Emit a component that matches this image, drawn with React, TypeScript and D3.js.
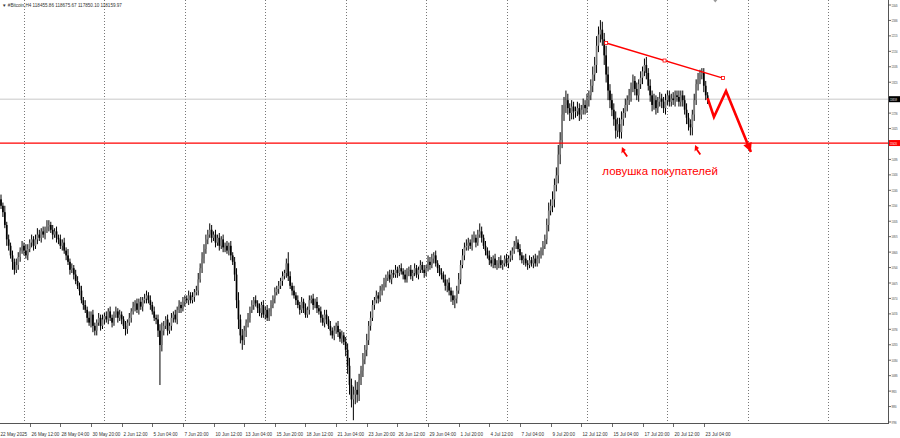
import React from "react";
import * as d3 from "d3";

const W = 900;
const H = 438;
const PLOT_R = 888;
const PLOT_B = 423;

// ---- data (prices in thousands USD, H4 bars) ----
const firstOpen = 111.9;
const closes = [
  111.5, 111.1, 110.3, 109.4, 109.0, 108.4, 108.0, 107.5, 107.8, 108.3,
  108.7, 109.0, 108.7, 108.4, 108.8, 109.2, 109.4, 109.0, 109.4, 109.7,
  109.5, 109.9, 109.7, 110.0, 110.2, 110.3, 110.0, 109.7, 109.9, 109.5,
  109.4, 109.0, 109.2, 108.7, 108.4, 108.0, 107.5, 107.6, 107.2, 106.8,
  106.5, 106.2, 105.6, 105.3, 105.0, 104.5, 104.2, 104.7, 104.0, 103.7,
  104.2, 104.5, 104.0, 104.4, 104.6, 104.4, 104.9, 104.5, 104.2, 104.7,
  104.9, 104.5, 104.7, 104.4, 104.0, 103.8, 104.2, 104.5, 104.9, 105.2,
  105.4, 105.0, 105.5, 105.2, 105.6, 105.7, 105.9, 105.6, 105.3, 104.9,
  104.5, 104.4, 103.7, 102.8, 103.7, 104.0, 104.4, 103.7, 104.0, 104.5,
  104.7, 104.4, 105.0, 105.3, 105.1, 105.5, 105.7, 105.6, 105.9, 105.6,
  105.8, 106.1, 106.2, 106.9, 107.6, 108.2, 108.8, 109.4, 109.7, 110.0,
  109.5, 109.7, 109.2, 109.5, 109.0, 109.4, 108.9, 109.0, 108.7, 109.0,
  108.4, 108.0, 107.2, 105.6, 104.4, 103.4, 103.1, 103.7, 104.2, 104.5,
  105.0, 105.3, 105.6, 105.4, 105.1, 104.8, 105.3, 104.7, 105.0, 104.5,
  104.9, 105.3, 105.7, 106.1, 106.3, 106.5, 106.8, 107.1, 107.3, 107.9,
  107.1, 106.5, 106.2, 105.9, 105.6, 105.3, 105.0, 105.5, 105.1, 104.7,
  105.0, 105.6, 105.7, 105.3, 105.5, 105.1, 104.9, 104.5, 104.2, 104.7,
  104.4, 104.0, 103.7, 103.4, 103.7, 104.0, 103.6, 103.2, 103.4, 103.0,
  102.5, 101.5, 100.3, 99.4, 99.7, 100.0, 99.7, 100.6, 101.2, 101.9,
  102.5, 103.1, 104.0, 104.5, 105.3, 105.6, 105.9, 105.7, 106.2, 106.4,
  106.7, 107.0, 107.2, 106.9, 107.3, 107.2, 107.5, 107.3, 107.6, 107.4,
  107.2, 106.9, 107.4, 107.5, 107.1, 107.3, 107.6, 107.2, 107.5, 107.8,
  107.5, 107.3, 107.6, 108.0, 107.8, 108.2, 108.4, 107.9, 107.6, 107.3,
  107.2, 106.9, 106.5, 106.7, 106.2, 105.9, 105.6, 105.7, 106.2, 106.9,
  107.8, 108.4, 108.9, 109.0, 109.2, 109.0, 109.4, 109.5, 109.2, 109.7,
  109.9, 109.5, 109.0, 108.7, 108.4, 108.1, 107.9, 108.2, 107.8, 107.9,
  108.1, 107.8, 107.9, 108.2, 107.9, 108.2, 108.4, 108.7, 109.0, 109.2,
  108.8, 108.4, 108.1, 108.2, 107.9, 107.8, 108.1, 107.9, 108.2, 107.9,
  108.2, 108.4, 108.7, 109.0, 109.4, 110.3, 111.2, 111.5, 111.9, 112.8,
  113.4, 114.7, 115.6, 117.2, 117.8, 118.1, 117.6, 117.3, 117.7, 117.4,
  117.4, 117.6, 117.2, 117.5, 117.8, 117.6, 118.1, 118.4, 119.0, 119.7,
  120.3, 121.5, 122.2, 122.5, 121.9, 120.9, 119.7, 118.7, 118.1, 117.5,
  116.9, 116.2, 116.6, 116.1, 116.9, 117.3, 117.8, 118.1, 118.4, 118.9,
  119.3, 118.8, 118.4, 119.1, 119.5, 119.9, 120.3, 119.8, 119.0, 118.4,
  117.8, 118.1, 117.6, 118.0, 118.2, 118.0, 117.6, 118.1, 118.4, 118.0,
  118.2, 118.1, 118.4, 118.3, 118.0, 118.4, 118.1, 117.5, 117.0, 116.6,
  116.4, 117.2, 118.1, 119.1, 119.4, 119.7, 119.8, 119.0, 118.4, 118.16,
];
// wick lengths above / below the body, in hundreds of USD
const wickUp = [
  3, 2, 4, 2, 3, 2, 3, 2, 4, 3, 2, 3, 2, 4, 3, 2, 3, 2, 3, 4,
  3, 2, 3, 2, 4, 3, 2, 3, 2, 3, 2, 3, 2, 3, 2, 4, 2, 3, 2, 3,
  3, 2, 3, 2, 3, 2, 4, 2, 3, 2, 2, 3, 2, 3, 2, 3, 2, 3, 2, 2,
  3, 2, 3, 2, 2, 3, 2, 3, 2, 3, 2, 3, 2, 3, 2, 3, 3, 2, 3, 2,
  3, 2, 3, 4, 5, 3, 2, 3, 2, 3, 2, 3, 2, 3, 2, 3, 2, 2, 3, 2,
  3, 2, 3, 4, 3, 4, 3, 3, 3, 4, 3, 2, 3, 2, 3, 2, 3, 2, 3, 2,
  3, 2, 3, 4, 5, 3, 4, 3, 2, 3, 2, 3, 2, 3, 2, 3, 2, 3, 2, 3,
  2, 3, 2, 3, 2, 3, 2, 3, 2, 3, 7, 3, 2, 3, 2, 3, 2, 3, 2, 3,
  2, 3, 2, 3, 2, 3, 2, 3, 2, 3, 3, 2, 3, 2, 3, 2, 3, 2, 3, 2,
  3, 4, 5, 4, 5, 6, 5, 4, 3, 4, 3, 4, 3, 4, 3, 2, 3, 2, 3, 2,
  3, 2, 2, 3, 2, 2, 3, 2, 2, 3, 2, 3, 2, 2, 3, 2, 3, 2, 2, 3,
  2, 3, 2, 4, 3, 3, 2, 3, 2, 2, 3, 2, 3, 2, 3, 2, 3, 2, 3, 4,
  3, 4, 3, 4, 3, 2, 3, 4, 2, 3, 5, 3, 2, 3, 2, 3, 2, 2, 3, 2,
  2, 3, 2, 2, 3, 2, 3, 2, 3, 4, 2, 3, 2, 2, 3, 2, 3, 2, 2, 3,
  2, 3, 2, 3, 3, 4, 5, 4, 5, 4, 5, 6, 5, 6, 5, 6, 4, 3, 4, 3,
  3, 4, 3, 3, 4, 3, 4, 3, 4, 5, 5, 6, 5, 6, 5, 4, 6, 5, 4, 4,
  4, 5, 4, 4, 5, 3, 4, 3, 4, 3, 4, 3, 4, 3, 4, 3, 4, 5, 3, 4,
  3, 4, 3, 3, 4, 3, 3, 4, 3, 3, 3, 4, 3, 3, 4, 3, 3, 3, 4, 3,
  3, 3, 4, 3, 4, 3, 3, 3, 3, 2,
];
const wickDown = [
  2, 3, 2, 4, 3, 2, 5, 3, 2, 3, 3, 2, 3, 2, 3, 2, 3, 3, 2, 3,
  2, 3, 2, 3, 2, 3, 2, 3, 2, 3, 3, 2, 3, 2, 3, 2, 3, 2, 3, 2,
  2, 3, 2, 3, 2, 3, 2, 3, 4, 3, 3, 2, 3, 2, 3, 2, 3, 2, 3, 2,
  2, 3, 2, 3, 2, 4, 3, 2, 3, 2, 3, 2, 3, 2, 3, 2, 3, 2, 3, 2,
  2, 3, 4, 25, 4, 3, 2, 3, 2, 3, 3, 2, 3, 2, 3, 2, 3, 2, 3, 2,
  2, 3, 2, 3, 2, 3, 3, 3, 3, 2, 3, 2, 3, 2, 3, 2, 3, 3, 2, 3,
  3, 2, 4, 5, 6, 5, 6, 3, 4, 3, 3, 2, 3, 2, 3, 2, 3, 2, 3, 2,
  2, 3, 2, 3, 2, 3, 2, 3, 2, 3, 3, 2, 3, 2, 3, 2, 3, 2, 3, 2,
  2, 3, 2, 3, 2, 3, 2, 3, 2, 3, 3, 2, 3, 2, 3, 2, 3, 2, 3, 2,
  4, 5, 6, 5, 13, 6, 5, 4, 3, 4, 3, 4, 3, 3, 2, 3, 2, 3, 2, 3,
  2, 3, 2, 2, 3, 2, 2, 3, 2, 2, 3, 2, 2, 3, 2, 3, 2, 2, 3, 2,
  2, 3, 2, 2, 3, 2, 3, 2, 3, 2, 3, 2, 3, 4, 3, 4, 3, 5, 3, 2,
  3, 2, 3, 2, 3, 2, 3, 2, 3, 2, 2, 3, 2, 3, 2, 3, 2, 3, 2, 3,
  3, 2, 3, 2, 2, 3, 2, 3, 2, 2, 2, 3, 2, 3, 2, 3, 2, 2, 3, 2,
  2, 3, 2, 3, 2, 3, 4, 3, 4, 5, 4, 5, 6, 5, 4, 5, 4, 5, 4, 5,
  4, 3, 4, 3, 3, 4, 3, 4, 3, 4, 4, 5, 4, 5, 4, 6, 5, 6, 5, 4,
  4, 5, 4, 4, 4, 4, 3, 4, 3, 4, 3, 4, 3, 4, 3, 4, 3, 4, 3, 4,
  4, 3, 4, 3, 3, 4, 3, 4, 3, 3, 3, 3, 4, 3, 3, 3, 4, 3, 4, 4,
  5, 5, 4, 3, 4, 3, 3, 4, 3, 3,
];

const timeLabels = [
  "22 May 2025", "26 May 12:00", "28 May 04:00", "30 May 20:00", "2 Jun 12:00",
  "5 Jun 04:00", "7 Jun 20:00", "10 Jun 12:00", "13 Jun 04:00", "15 Jun 20:00",
  "18 Jun 12:00", "21 Jun 04:00", "23 Jun 20:00", "26 Jun 12:00", "29 Jun 04:00",
  "1 Jul 20:00", "4 Jul 12:00", "7 Jul 04:00", "9 Jul 20:00", "12 Jul 12:00",
  "15 Jul 04:00", "17 Jul 20:00", "20 Jul 12:00", "23 Jul 04:00",
];
const timeLabelBars = [
  0, 15, 31, 47, 63, 79, 95, 111, 127, 143, 159, 175, 191, 207, 223, 239,
  255, 271, 287, 303, 319, 335, 351, 367,
];
const gridBars = [12, 54, 96, 138, 180, 222, 264, 306, 348, 390, 432];
const priceTicks = [
  124045, 123080, 122115, 121150, 120185, 119220, 118255, 117290, 116325,
  115360, 114395, 113430, 112465, 111500, 110535, 109570, 108605, 107640,
  106675, 105710, 104745, 103780, 102815, 101850, 100885, 99920, 98955, 97990,
];
const lastPrice = 118.16;
const levelPrice = 115.42;
const levelLabel = "115420";
const lastLabel = "118159";
const headerText = "▼ #Bitcoin,H4  118455.86 118675.67 117850.10 118159.97";

// annotations (bar index, price)
const trendBars = [316, 377];
const trendPrices = [121.67, 119.48];
const zigBars = [369, 372.3, 378.6, 391.6];
const zigPrices = [118.23, 117.05, 118.67, 114.86];
const arrowBars = [325.8, 364];
const arrowPrices = [114.86, 114.98];
const noteBar = 314;
const notePrice = 113.42;
const noteText = "ловушка покупателей";

const RED = "#ff0000";

export default function App() {
  const x = d3.scaleLinear().domain([0, 460]).range([1, 1 + 1.915 * 460]);
  const y = d3.scaleLinear().domain([97.99, 124.045]).range([422, 5]);

  const candles = closes.map((c, i) => {
    const o = i === 0 ? firstOpen : closes[i - 1];
    const hi = Math.max(o, c) + wickUp[i] / 10;
    const lo = Math.min(o, c) - wickDown[i] / 10;
    return { i, o, c, hi, lo };
  });

  const zigPts = zigBars.map((b, k) => [x(b), y(zigPrices[k])] as [number, number]);
  const zigLine = d3.line()(zigPts) || "";
  const [pA, pB] = [zigPts[zigPts.length - 2], zigPts[zigPts.length - 1]];
  const ang = Math.atan2(pB[1] - pA[1], pB[0] - pA[0]);
  const ah = 9;
  const aw = 4.5;
  const head = [
    [pB[0], pB[1]],
    [pB[0] - ah * Math.cos(ang) + aw * Math.sin(ang), pB[1] - ah * Math.sin(ang) - aw * Math.cos(ang)],
    [pB[0] - ah * Math.cos(ang) - aw * Math.sin(ang), pB[1] - ah * Math.sin(ang) + aw * Math.cos(ang)],
  ];

  const tx0 = x(trendBars[0]);
  const tx1 = x(trendBars[1]);
  const ty0 = y(trendPrices[0]);
  const ty1 = y(trendPrices[1]);
  const markers = [
    [tx0, ty0],
    [(tx0 + tx1) / 2, (ty0 + ty1) / 2],
    [tx1, ty1],
  ];

  const tinyFont = "'Liberation Sans', Arial, sans-serif";
  const boxYs = [y(lastPrice), y(levelPrice)];

  return (
    <svg width={W} height={H} style={{ display: "block", position: "absolute", left: 0, top: 0 }}>
      <rect x={0} y={0} width={W} height={H} fill="#ffffff" />
      <defs>
        <clipPath id="plot">
          <rect x={0} y={0} width={PLOT_R} height={PLOT_B} />
        </clipPath>
      </defs>

      {/* vertical grid */}
      {gridBars.map((b) => (
        <line key={b} x1={Math.round(x(b)) + 0.5} x2={Math.round(x(b)) + 0.5} y1={0} y2={PLOT_B}
          stroke="#777" strokeWidth={1} strokeDasharray="1,2" />
      ))}

      {/* current price line */}
      <line x1={0} x2={PLOT_R} y1={y(lastPrice)} y2={y(lastPrice)} stroke="#c8c8c8" strokeWidth={1} />

      {/* candles */}
      <g clipPath="url(#plot)">
        {candles.map((d) => {
          const cx = x(d.i);
          const top = y(Math.max(d.o, d.c));
          const bot = y(Math.min(d.o, d.c));
          const bull = d.c >= d.o;
          return (
            <g key={d.i}>
              <line x1={cx} x2={cx} y1={y(d.hi)} y2={y(d.lo)} stroke="#000" strokeWidth={1} />
              <rect x={cx - 0.85} y={top} width={1.7} height={Math.max(0.8, bot - top)}
                fill={bull ? "#7a7a7a" : "#000"} />
            </g>
          );
        })}
      </g>

      {/* red horizontal level */}
      <line x1={0} x2={PLOT_R} y1={y(levelPrice)} y2={y(levelPrice)} stroke={RED} strokeWidth={1.2} />

      {/* trend line */}
      <line x1={tx0} y1={ty0} x2={tx1} y2={ty1} stroke={RED} strokeWidth={1.4} />
      {markers.map((m, k) => (
        <rect key={k} x={m[0] - 1.5} y={m[1] - 1.5} width={3} height={3} fill="#fff" stroke={RED} strokeWidth={0.8} />
      ))}

      {/* zigzag projection */}
      <path d={zigLine} fill="none" stroke={RED} strokeWidth={2.6} strokeLinejoin="miter" />
      <polygon points={head.map((p) => p.join(",")).join(" ")} fill={RED} />

      {/* small arrow markers */}
      {arrowBars.map((b, k) => {
        const ax = x(b);
        const ay = y(arrowPrices[k]);
        const d = `M${ax - 3},${ay - 5} L${ax + 1},${ay - 2} L${ax - 0.5},${ay - 1} L${ax + 3},${ay + 4} L${ax + 1.5},${ay + 5} L${ax - 2},${ay} L${ax - 3.5},${ay + 1.5} Z`;
        return <path key={k} d={d} fill={RED} />;
      })}

      <text x={x(noteBar)} y={y(notePrice)} fill={RED} fontSize={11.5}
        fontFamily="'Liberation Sans', Arial, sans-serif">{noteText}</text>

      {/* frame */}
      <line x1={PLOT_R + 0.5} x2={PLOT_R + 0.5} y1={0} y2={PLOT_B} stroke="#555" strokeWidth={1} />
      <line x1={0} x2={PLOT_R + 1} y1={PLOT_B + 0.5} y2={PLOT_B + 0.5} stroke="#555" strokeWidth={1} />

      {/* price axis */}
      {priceTicks.map((p) => {
        const yy = y(p / 1000);
        const hidden = boxYs.some((by) => Math.abs(by - yy) < 5);
        return (
          <g key={p}>
            <line x1={PLOT_R} x2={PLOT_R + 3} y1={yy} y2={yy} stroke="#444" strokeWidth={0.8} />
            {!hidden && (
              <g transform={`translate(${PLOT_R + 3.5},${yy + 1.6}) scale(0.42,1)`}>
                <text x={0} y={0} fontSize={4.4} fill="#333" fontFamily={tinyFont}>{p}</text>
              </g>
            )}
          </g>
        );
      })}
      <rect x={PLOT_R + 1} y={y(lastPrice) - 3} width={W - PLOT_R} height={6} fill="#000" />
      <g transform={`translate(${PLOT_R + 2},${y(lastPrice) + 1.7}) scale(0.48,1)`}>
        <text x={0} y={0} fontSize={4.4} fill="#fff" fontFamily={tinyFont}>{lastLabel}</text>
      </g>
      <rect x={PLOT_R + 1} y={y(levelPrice) - 3} width={W - PLOT_R} height={6} fill={RED} />
      <g transform={`translate(${PLOT_R + 2},${y(levelPrice) + 1.7}) scale(0.48,1)`}>
        <text x={0} y={0} fontSize={4.4} fill="#fff" fontFamily={tinyFont}>{levelLabel}</text>
      </g>

      {/* time axis */}
      {timeLabels.map((t, k) => {
        const xx = Math.round(x(timeLabelBars[k])) + 0.5;
        return (
          <g key={t}>
            {k > 0 && <line x1={xx} x2={xx} y1={PLOT_B} y2={PLOT_B + 4} stroke="#444" strokeWidth={0.8} />}
            <text x={k === 0 ? 0.5 : xx + 1} y={436} fontSize={4.6} fill="#333" fontFamily={tinyFont}>{t}</text>
          </g>
        );
      })}

      {/* header */}
      <text x={2} y={7} fontSize={4.6} fill="#333" fontFamily={tinyFont}>{headerText}</text>
      <path d={`M${x(373) - 2},0 L${x(373) + 2},0 L${x(373)},2.5 Z`} fill="#999" />
    </svg>
  );
}
